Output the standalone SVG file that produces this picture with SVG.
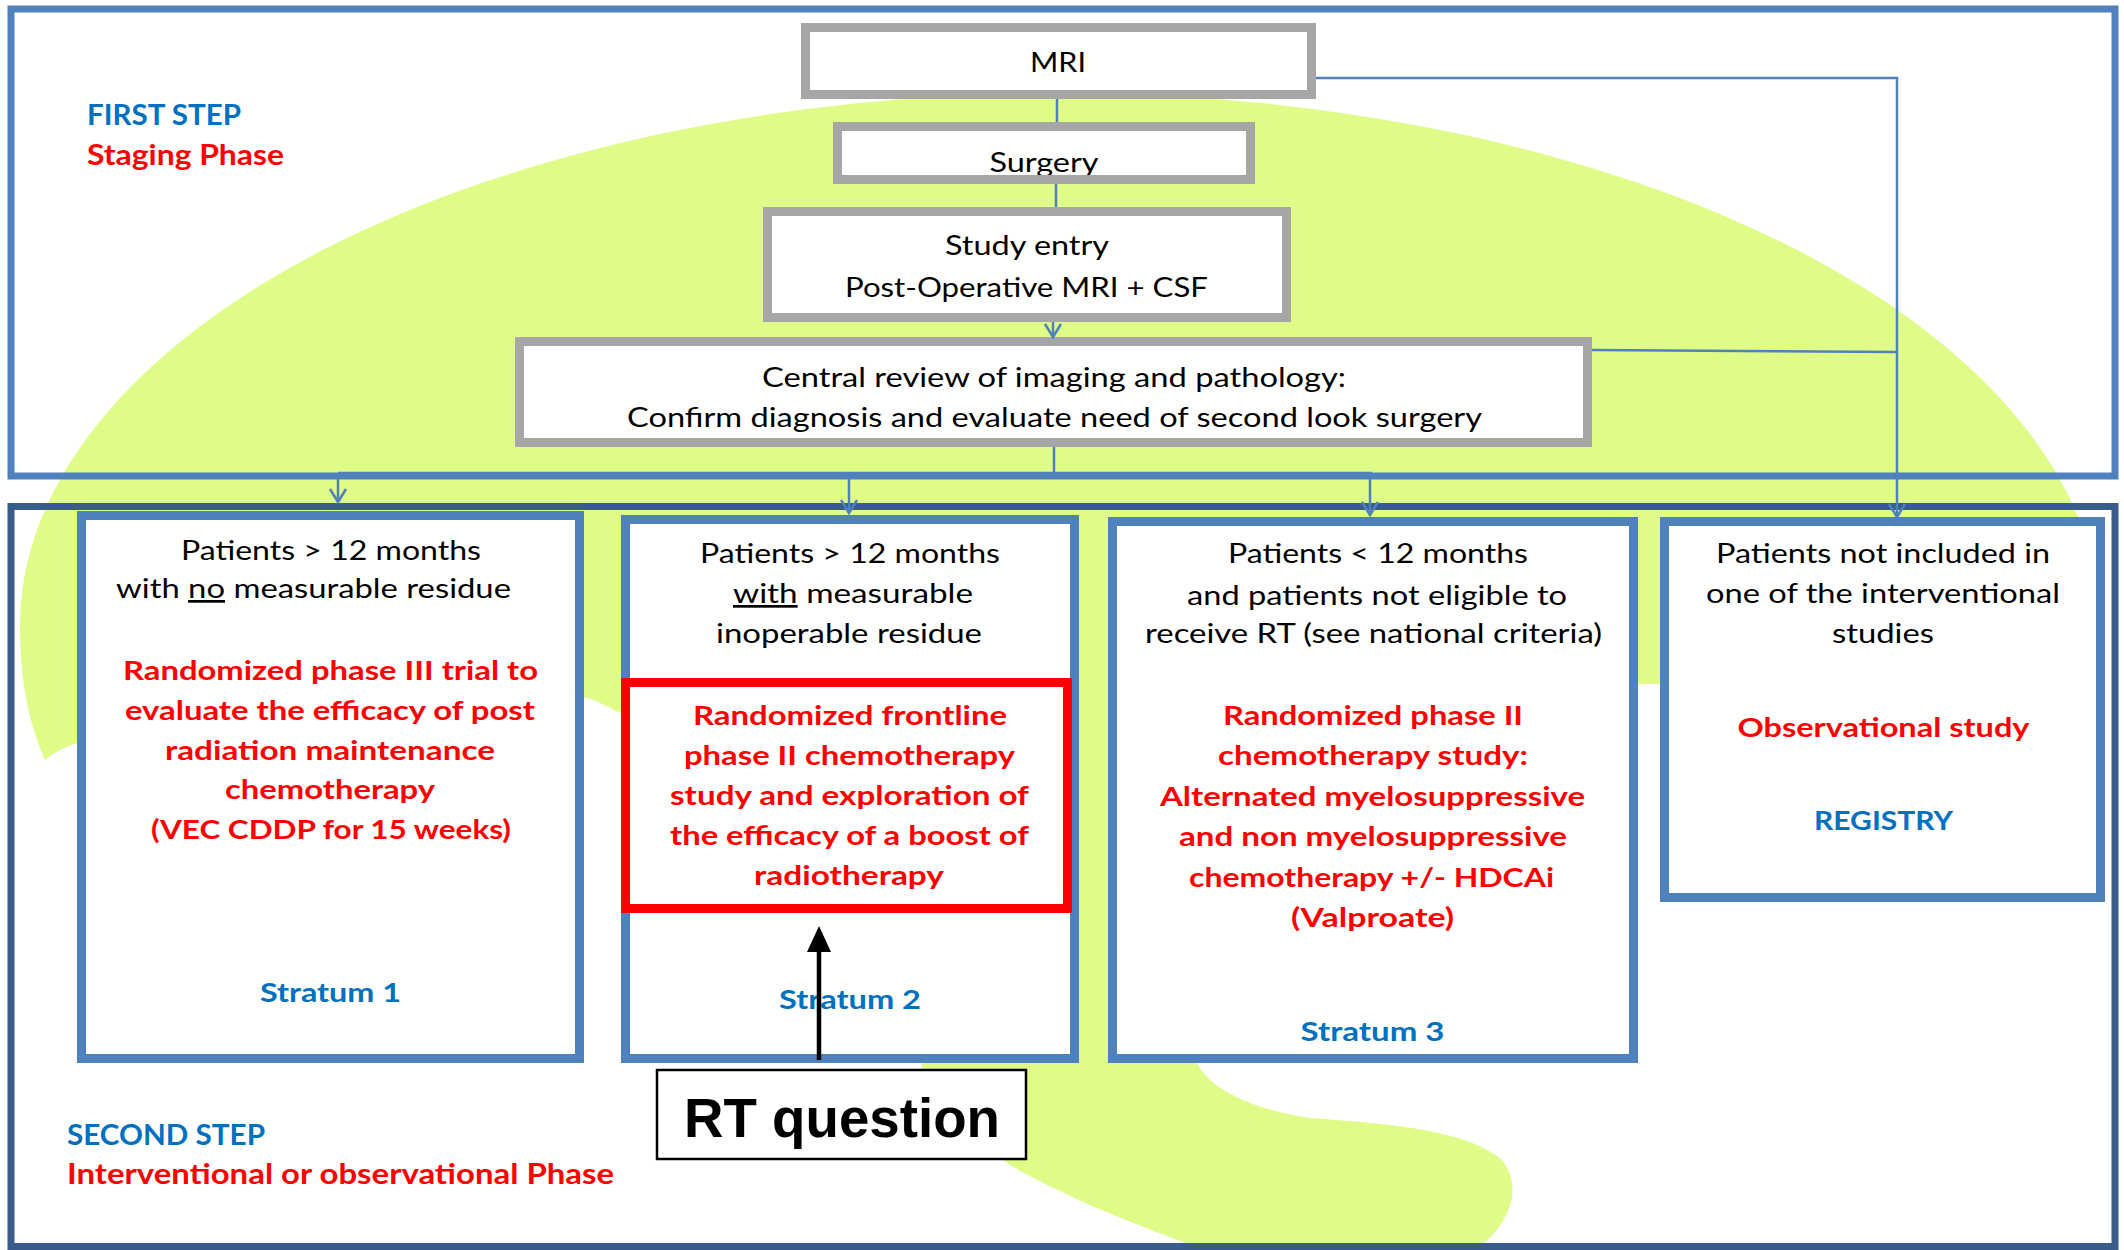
<svg xmlns="http://www.w3.org/2000/svg" width="2124" height="1250" viewBox="0 0 2124 1250">
  <style>
    .t { font-family: Lato, "Open Sans", "Liberation Sans", sans-serif; font-size: 27px; fill: #000; }
    .c { text-anchor: middle; }
    .b { font-weight: bold; }
    .red { fill: #FF0000; font-weight: bold; }
    .blu { fill: #0070C0; font-weight: bold; }
    .lbl { font-size: 28px; }
    .gbox { fill: #FFFFFF; stroke: #A6A6A6; stroke-width: 9; }
    .gfill { fill: #FFFFFF; stroke: none; }
    .gline { fill: none; stroke: #A6A6A6; stroke-width: 9; }
    .sbox { fill: #FFFFFF; stroke: #4F81BD; stroke-width: 9; }
    .rbox { fill: #FFFFFF; stroke: #FF0000; stroke-width: 9; }
    .conn { fill: none; stroke: #4F81BD; stroke-width: 2.5; }
    .u { text-decoration: underline; }
  </style>
  <defs>
    <marker id="vhead" markerUnits="userSpaceOnUse" markerWidth="30" markerHeight="30" refX="0" refY="0" orient="auto" overflow="visible">
      <path d="M -13 -8 L 0 0 L -13 8" fill="none" stroke="#4F81BD" stroke-width="2.5"/>
    </marker>
  </defs>

  <rect width="2124" height="1250" fill="#FFFFFF"/>

  <!-- soft green background blob -->
  <path id="blob" fill="#DFFC88"
        d="M 45 760 C 28 720 20 680 20 626 A 1040 533 0 0 1 2100 626
           C 2100 700 2000 720 1850 700 C 1750 690 1700 684 1650 684
           C 1450 684 1200 880 1197 1063
           C 1210 1090 1255 1110 1310 1118 C 1400 1124 1470 1132 1502 1160
           C 1525 1190 1510 1230 1460 1262 L 1240 1262
           C 1160 1235 1070 1200 1010 1165 C 960 1130 930 1095 921 1063
           C 880 900 760 735 621 713 C 605 706 595 699 583 697
           C 400 700 150 735 77 743 C 62 748 52 754 45 760 Z"/>

  <!-- phase frames -->
  <rect id="frame-first" x="11" y="9" width="2104" height="467" fill="none" stroke="#4F81BD" stroke-width="7"/>
  <rect id="frame-second" x="11" y="506.5" width="2104" height="740" fill="none" stroke="#385D8A" stroke-width="7"/>

  <g id="phase-labels">
    <text class="t b lbl blu" x="87" y="125" textLength="154" lengthAdjust="spacingAndGlyphs">FIRST STEP</text>
    <text class="t b lbl red" x="87" y="165" textLength="197" lengthAdjust="spacingAndGlyphs">Staging Phase</text>
    <text class="t b lbl blu" x="67" y="1145" textLength="198" lengthAdjust="spacingAndGlyphs">SECOND STEP</text>
    <text class="t b lbl red" x="67" y="1184" textLength="547" lengthAdjust="spacingAndGlyphs">Interventional or observational Phase</text>
  </g>

  <g id="node-mri">
    <rect class="gbox" x="805.5" y="27.5" width="506" height="67"/>
    <text class="t c" x="1058" y="72" textLength="56" lengthAdjust="spacingAndGlyphs">MRI</text>
  </g>

  <!-- fill, label, then frame on top so the descenders sit under the border -->
  <g id="node-surgery">
    <rect class="gfill" x="837.5" y="126.5" width="413" height="53"/>
    <text class="t c" x="1044" y="172" textLength="109" lengthAdjust="spacingAndGlyphs">Surgery</text>
    <rect class="gline" x="837.5" y="126.5" width="413" height="53"/>
  </g>

  <g id="node-study-entry">
    <rect class="gbox" x="767.5" y="211.5" width="519" height="106"/>
    <text class="t c" x="1027" y="255" textLength="164" lengthAdjust="spacingAndGlyphs">Study entry</text>
    <text class="t c" x="1026.5" y="297" textLength="363" lengthAdjust="spacingAndGlyphs">Post-Operative MRI + CSF</text>
  </g>

  <g id="node-central-review">
    <rect class="gbox" x="519.5" y="341.5" width="1068" height="101"/>
    <text class="t c" x="1054" y="387" textLength="584" lengthAdjust="spacingAndGlyphs">Central review of imaging and pathology:</text>
    <text class="t c" x="1054.5" y="427" textLength="855" lengthAdjust="spacingAndGlyphs">Confirm diagnosis and evaluate need of second look surgery</text>
  </g>

  <g id="node-stratum1">
    <rect class="sbox" x="81.5" y="515.5" width="498" height="543"/>
    <text class="t c" x="331" y="560" textLength="300" lengthAdjust="spacingAndGlyphs">Patients &gt; 12 months</text>
    <text class="t c" x="313.5" y="598" textLength="395" lengthAdjust="spacingAndGlyphs">with <tspan class="u">no</tspan> measurable residue</text>
    <text class="t c red" x="330.5" y="680" textLength="415" lengthAdjust="spacingAndGlyphs">Randomized phase III trial to</text>
    <text class="t c red" x="330" y="720" textLength="410" lengthAdjust="spacingAndGlyphs">evaluate the efficacy of post</text>
    <text class="t c red" x="330" y="760" textLength="330" lengthAdjust="spacingAndGlyphs">radiation maintenance</text>
    <text class="t c red" x="330" y="799" textLength="210" lengthAdjust="spacingAndGlyphs">chemotherapy</text>
    <text class="t c red" x="331" y="839" textLength="360" lengthAdjust="spacingAndGlyphs">(VEC CDDP for 15 weeks)</text>
    <text class="t c blu" x="330.5" y="1002" textLength="141" lengthAdjust="spacingAndGlyphs">Stratum 1</text>
  </g>

  <g id="node-stratum2">
    <rect class="sbox" x="625.5" y="519.5" width="449" height="539"/>
    <text class="t c" x="850" y="563" textLength="300" lengthAdjust="spacingAndGlyphs">Patients &gt; 12 months</text>
    <text class="t c" x="853" y="603" textLength="240" lengthAdjust="spacingAndGlyphs"><tspan class="u">with</tspan> measurable</text>
    <text class="t c" x="849" y="643" textLength="266" lengthAdjust="spacingAndGlyphs">inoperable residue</text>
    <text class="t c blu" x="850" y="1009" textLength="142" lengthAdjust="spacingAndGlyphs">Stratum 2</text>
  </g>

  <g id="node-stratum2-study">
    <rect class="rbox" x="625.5" y="682.5" width="442" height="226"/>
    <text class="t c red" x="850" y="725" textLength="314" lengthAdjust="spacingAndGlyphs">Randomized frontline</text>
    <text class="t c red" x="849.5" y="765" textLength="331" lengthAdjust="spacingAndGlyphs">phase II chemotherapy</text>
    <text class="t c red" x="849.5" y="805" textLength="359" lengthAdjust="spacingAndGlyphs">study and exploration of</text>
    <text class="t c red" x="849.5" y="845" textLength="359" lengthAdjust="spacingAndGlyphs">the efficacy of a boost of</text>
    <text class="t c red" x="849" y="885" textLength="190" lengthAdjust="spacingAndGlyphs">radiotherapy</text>
  </g>

  <g id="node-stratum3">
    <rect class="sbox" x="1112.5" y="521.5" width="521" height="537"/>
    <text class="t c" x="1378" y="563" textLength="300" lengthAdjust="spacingAndGlyphs">Patients &lt; 12 months</text>
    <text class="t c" x="1377" y="605" textLength="380" lengthAdjust="spacingAndGlyphs">and patients not eligible to</text>
    <text class="t c" x="1373.5" y="643" textLength="457" lengthAdjust="spacingAndGlyphs">receive RT (see national criteria)</text>
    <text class="t c red" x="1373" y="725" textLength="300" lengthAdjust="spacingAndGlyphs">Randomized phase II</text>
    <text class="t c red" x="1373" y="765" textLength="310" lengthAdjust="spacingAndGlyphs">chemotherapy study:</text>
    <text class="t c red" x="1372.5" y="806" textLength="425" lengthAdjust="spacingAndGlyphs">Alternated myelosuppressive</text>
    <text class="t c red" x="1373" y="846" textLength="388" lengthAdjust="spacingAndGlyphs">and non myelosuppressive</text>
    <text class="t c red" x="1371.5" y="887" textLength="365" lengthAdjust="spacingAndGlyphs">chemotherapy +/- HDCAi</text>
    <text class="t c red" x="1372.5" y="927" textLength="163" lengthAdjust="spacingAndGlyphs">(Valproate)</text>
    <text class="t c blu" x="1372.5" y="1041" textLength="144" lengthAdjust="spacingAndGlyphs">Stratum 3</text>
  </g>

  <g id="node-registry">
    <rect class="sbox" x="1664.5" y="521.5" width="436" height="376"/>
    <text class="t c" x="1883" y="563" textLength="334" lengthAdjust="spacingAndGlyphs">Patients not included in</text>
    <text class="t c" x="1883" y="603" textLength="354" lengthAdjust="spacingAndGlyphs">one of the interventional</text>
    <text class="t c" x="1883" y="643" textLength="102" lengthAdjust="spacingAndGlyphs">studies</text>
    <text class="t c red" x="1883.5" y="737" textLength="292" lengthAdjust="spacingAndGlyphs">Observational study</text>
    <text class="t c blu" x="1883.5" y="830" textLength="139" lengthAdjust="spacingAndGlyphs">REGISTRY</text>
  </g>

  <g id="connectors">
    <line class="conn" x1="1057" y1="99" x2="1057" y2="122" stroke-width="3"/>
    <line class="conn" x1="1056" y1="184" x2="1056" y2="207" stroke-width="3"/>
    <line class="conn" x1="1053" y1="322" x2="1053" y2="337" stroke-width="4" marker-end="url(#vhead)"/>
    <line class="conn" x1="1054" y1="447" x2="1054" y2="474" stroke-width="5"/>
    <line class="conn" x1="338" y1="473" x2="1372" y2="473"/>
    <line class="conn" x1="338" y1="473" x2="338" y2="502" marker-end="url(#vhead)"/>
    <line class="conn" x1="849" y1="473" x2="849" y2="513" marker-end="url(#vhead)"/>
    <line class="conn" x1="1370" y1="473" x2="1370" y2="515" marker-end="url(#vhead)"/>
    <polyline class="conn" points="1316,78 1897,78 1897,517" marker-end="url(#vhead)"/>
    <line class="conn" x1="1592" y1="350" x2="1897" y2="352"/>
  </g>

  <g id="node-rt-question">
    <rect x="657" y="1070" width="369" height="89" fill="#FFFFFF" stroke="#000000" stroke-width="2.5"/>
    <text x="842" y="1137" text-anchor="middle" font-family="'Liberation Sans', Arial, sans-serif" font-weight="bold" font-size="55" textLength="316" lengthAdjust="spacingAndGlyphs">RT question</text>
  </g>

  <g id="rt-arrow">
    <line x1="819" y1="1060" x2="819" y2="945" stroke="#000000" stroke-width="4.5"/>
    <polygon points="819,926 807,952 831,952" fill="#000000"/>
  </g>
</svg>
